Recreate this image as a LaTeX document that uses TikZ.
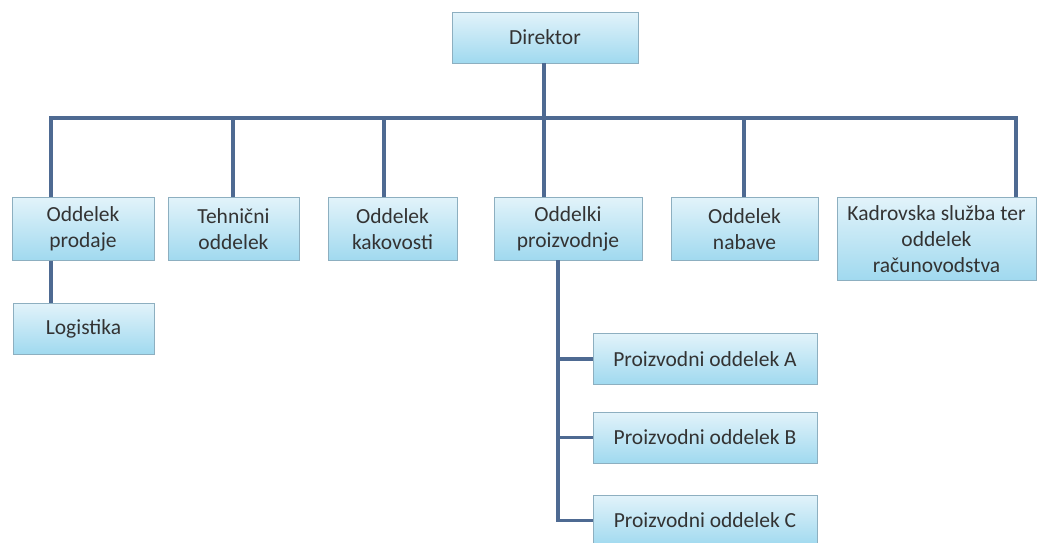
\documentclass[tikz,border=0pt]{standalone}
\usepackage{fontspec}
\setmainfont{Carlito}
\usepackage{tikz}
\usetikzlibrary{calc,positioning}
\definecolor{wire}{HTML}{4E6A92}
\definecolor{boxtop}{HTML}{E2F3FA}
\definecolor{boxbot}{HTML}{A0D9EF}
\definecolor{boxline}{HTML}{8DAFC0}
\definecolor{ink}{HTML}{333333}
\begin{document}
\begin{tikzpicture}[x=1pt, y=-1pt,
  every node/.style={font=\fontsize{21.5}{26}\selectfont, align=center, inner sep=2pt, text=ink},
  unit/.style={draw=boxline, line width=0.8pt, top color=boxtop, bottom color=boxbot, minimum height=63pt},
  link/.style={draw=wire, line width=3.6pt, line join=miter}]
\useasboundingbox (0,0) rectangle (1038,542);
\clip (0,0) rectangle (1038,542);
% top
\node[unit, minimum width=186pt, minimum height=51pt] (dir) at (545,37.5) {Direktor};
% first level
\node[unit, minimum width=142pt] (prodaja) at (83,229) {Oddelek\\prodaje};
\node[unit, minimum width=131pt] (tehnika) at (233.5,229) {Tehnični\\oddelek};
\node[unit, minimum width=129pt] (kakovost) at (392.5,229) {Oddelek\\kakovosti};
\node[unit, minimum width=148pt] (proizv) at (568,228.5) {Oddelki\\proizvodnje};
\node[unit, minimum width=147pt] (nabava) at (744.5,229) {Oddelek\\nabave};
\node[unit, minimum width=199pt, minimum height=83pt, anchor=north] (kadri) at (936.5,197) {Kadrovska služba ter\\oddelek\\računovodstva};
% second level
\node[unit, minimum width=141pt, minimum height=51pt] (logist) at (83.5,328.5) {Logistika};
\foreach \n/\y in {A/359, B/437.5, C/520.5}
  \node[unit, minimum width=224pt, minimum height=51pt] (odd\n) at (705,\y) {Proizvodni oddelek \n};
% bus
\coordinate (t1) at (51,118);
\coordinate (t2) at (233,118);
\coordinate (t3) at (384,118);
\coordinate (t4) at (544,118);
\coordinate (t5) at (744,118);
\coordinate (t6) at (1016,118);
\draw[link] (t1 |- prodaja.north) -- (t1) -- (t6) -- (t6 |- kadri.north);
\draw[link] (dir.south -| t4) -- (t4 |- proizv.north);
\draw[link] (t2) -- (t2 |- tehnika.north);
\draw[link] (t3) -- (t3 |- kakovost.north);
\draw[link] (t5) -- (t5 |- nabava.north);
\draw[link] (t1 |- prodaja.south) -- (t1 |- logist.north);
% production branch
\coordinate (spine) at (558,0);
\draw[link] (spine |- proizv.south) |- (oddC.west);
\draw[link] (spine |- oddA.west) -- (oddA.west);
\draw[link] (spine |- oddB.west) -- (oddB.west);
\end{tikzpicture}
\end{document}
